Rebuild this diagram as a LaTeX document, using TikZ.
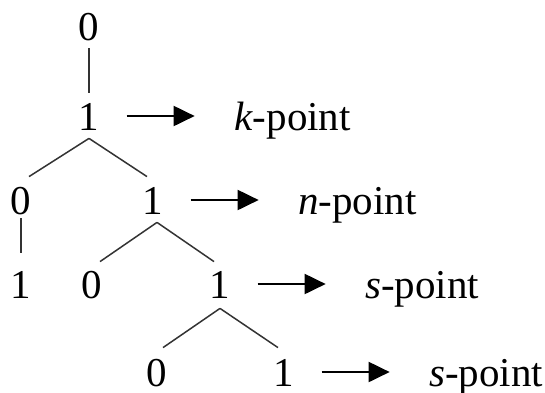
\documentclass[tikz,border=0pt]{standalone}
\usepackage{fontspec}
\setmainfont{Liberation Serif}
\usetikzlibrary{positioning,arrows.meta}

\begin{document}
\begin{tikzpicture}[x=0.5pt,y=-0.5pt,
        bit/.style={anchor=base,inner sep=0pt,text height=14pt,text depth=0pt,font=\fontsize{20.5}{24}\selectfont},
        lbl/.style={inner sep=0pt,text height=14pt,text depth=0pt,font=\fontsize{20.5}{24}\selectfont},
        edge/.style={line width=0.75pt,color=black!80},
        arr/.style={line width=1pt,-{Triangle[length=10.5pt,width=10pt]},shorten <=13.5pt,shorten >=19.5pt}]
                %\draw[help lines] (0,0) grid (545,392);
                \useasboundingbox (0,0) rectangle (545,392);
                \node[bit] (n0) at (89,40) {0};
                \node[bit] (n1) at (89,130) {1};
                \node[bit] (n10) at (21,214) {0};
                \node[bit] (n11) at (153,214) {1};
                \node[bit] (n101) at (21,298) {1};
                \node[bit] (n110) at (92,298) {0};
                \node[bit] (n111) at (220,298) {1};
                \node[bit] (n1110) at (157,386) {0};
                \node[bit] (n1111) at (284,386) {1};
                \node[lbl,base right=67pt of n1] (kpt) {\textit{k}-point};
                \node[lbl,base right=67pt of n11] (npt) {\textit{n}-point};
                \node[lbl,base right=67pt of n111] (spt) {\textit{s}-point};
                \node[lbl,base right=67pt of n1111] (spt2) {\textit{s}-point};
                \draw[edge] ([yshift=-4pt]n0.south) -- ([yshift=4.5pt]n1.north);
                \draw[edge] ([yshift=-4pt]n1.south) -- ([xshift=4pt,yshift=4.5pt]n10.north);
                \draw[edge] ([yshift=-4pt]n1.south) -- ([xshift=-3pt,yshift=4.5pt]n11.north);
                \draw[edge] ([yshift=-2pt]n10.south) -- ([yshift=8.5pt]n101.north);
                \draw[edge] ([xshift=2pt,yshift=-4pt]n11.south) -- ([xshift=4pt,yshift=4pt]n110.north);
                \draw[edge] ([xshift=2pt,yshift=-4pt]n11.south) -- ([xshift=-3pt,yshift=4pt]n111.north);
                \draw[edge] ([yshift=-5pt]n111.south) -- ([xshift=3pt,yshift=5pt]n1110.north);
                \draw[edge] ([yshift=-5pt]n111.south) -- ([xshift=-3pt,yshift=5pt]n1111.north);
                \draw[arr] (n1) -- (kpt);
                \draw[arr] (n11) -- (npt);
                \draw[arr] (n111) -- (spt);
                \draw[arr] (n1111) -- (spt2);
            \end{tikzpicture}
\end{document}
